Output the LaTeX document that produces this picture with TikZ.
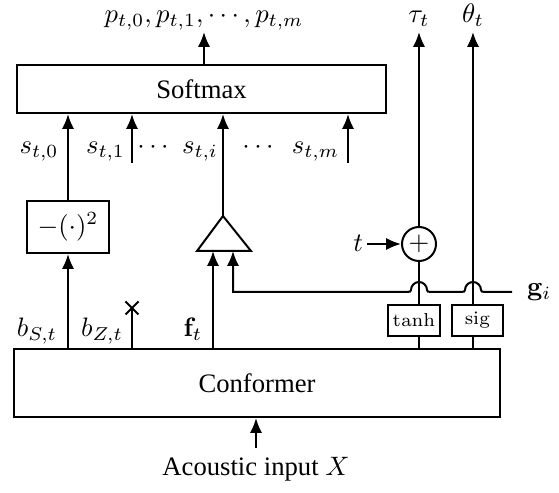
\documentclass[tikz,border=0pt]{standalone}
\usepackage[no-math]{fontspec}
\setmainfont{Liberation Serif}
\usetikzlibrary{arrows.meta}
\begin{document}
\begin{tikzpicture}[x=0.375pt,y=-0.375pt,
  line width=0.75pt,
  arr/.style={-{Latex[length=5.6pt,width=4.6pt]}},
  blockbox/.style={draw, inner sep=0pt},
  lbl/.style={inner sep=0pt, anchor=base},
  smallbox/.style={draw, inner sep=0pt, minimum width=19.5pt, minimum height=11.6pt, font=\scriptsize}
]
\useasboundingbox (0,0) rectangle (559,493);
% blocks
\node[blockbox, minimum width=138.4pt, minimum height=18pt] (soft) at (201.5,89) {Softmax};
\node[blockbox, minimum width=182.25pt, minimum height=25.5pt] (conf) at (257,383) {Conformer};
\node[blockbox, minimum width=30.75pt, minimum height=19.5pt] (sq) at (68,227) {$-(\cdot)^2$};
\node[smallbox] (tanh) at (414,320.5) {$\mathrm{tanh}$};
\node[smallbox, minimum width=19.1pt] (sig) at (477.5,320.5) {$\mathrm{sig}$};
\node[draw, circle, inner sep=0pt, minimum size=12.75pt] (plus) at (419,244) {$+$};
% triangle
\coordinate (tapex) at (223,216);
\coordinate (tbl) at (197,251);
\coordinate (tbr) at (251,251);
\draw[line join=miter] (tapex) -- (tbr) -- (tbl) -- cycle;
% softmax output
\coordinate (pout) at (204,32);
\draw[arr] (soft.north -| pout) -- (pout);
\node[lbl] (plab) at (204,23) {$p_{t,0}, p_{t,1}, \cdots, p_{t,m}$};
% inputs to softmax
\draw[arr] (sq.north) -- (soft.south -| sq.north);
\coordinate (s1) at (132,163);
\draw[arr] (s1) -- (soft.south -| s1);
\draw[arr] (tapex) -- (soft.south -| tapex);
\coordinate (sm) at (348,163);
\draw[arr] (sm) -- (soft.south -| sm);
\node[lbl] (ls0) at (39,154) {$s_{t,0}$};
\node[lbl] (ls1) at (105.5,154) {$s_{t,1}$};
\node[lbl] (ld1) at (153,154) {$\cdots$};
\node[lbl] (lsi) at (200,154) {$s_{t,i}$};
\node[lbl] (ld2) at (258,154) {$\cdots$};
\node[lbl] (lsm) at (315.5,154) {$s_{t,m}$};
% conformer outputs
\draw[arr] (conf.north -| sq.south) -- (sq.south);
\coordinate (bz) at (132,308);
\draw (conf.north -| bz) -- (bz);
\draw ([shift={(-6.5,-6.5)}]bz) -- ([shift={(6.5,6.5)}]bz);
\draw ([shift={(-6.5,6.5)}]bz) -- ([shift={(6.5,-6.5)}]bz);
\coordinate (fin) at (213,251);
\draw[arr] (conf.north -| fin) -- (fin);
\node[lbl] (lbs) at (37,337) {$b_{S,t}$};
\node[lbl] (lbz) at (102,337) {$b_{Z,t}$};
\node[lbl] (lf) at (193,337) {$\mathbf{f}_t$};
% g_i path with hops
\coordinate (gin) at (233,251);
\coordinate (gend) at (512,292);
\draw[arr] (gend) -- (485,292)
  .. controls (482,292) and (481,291.5) .. (481,290)
  arc[start angle=0, end angle=-180, radius=8]
  .. controls (465,291.5) and (464,292) .. (461,292)
  -- (431,292)
  .. controls (428,292) and (427,291.5) .. (427,290)
  arc[start angle=0, end angle=-180, radius=8]
  .. controls (411,291.5) and (410,292) .. (407,292)
  -- (gin |- gend) -- (gin);
\node[anchor=base west, inner sep=0pt] (lg) at (526,296) {$\mathbf{g}_i$};
% tanh branch
\coordinate (tau) at (419,32);
\draw (conf.north -| plus) -- (tanh.south -| plus);
\draw (tanh.north -| plus) -- (plus.south);
\draw[arr] (plus.north) -- (tau);
\node[lbl] (ltau) at (419,23) {$\tau_t$};
\coordinate (tin) at (367,244);
\draw[arr] (tin) -- (plus.west);
\node[inner sep=0pt, anchor=base east] (lt) at (364,252) {$t$};
% sig branch
\coordinate (th) at (473,32);
\draw (conf.north -| th) -- (sig.south -| th);
\draw[arr] (sig.north -| th) -- (th);
\node[lbl] (lth) at (473,23) {$\theta_t$};
% input
\coordinate (xin) at (256,448);
\draw[arr] (xin) -- (conf.south -| xin);
\node[lbl] (lx) at (256,476) {Acoustic input $X$};
\end{tikzpicture}
\end{document}
